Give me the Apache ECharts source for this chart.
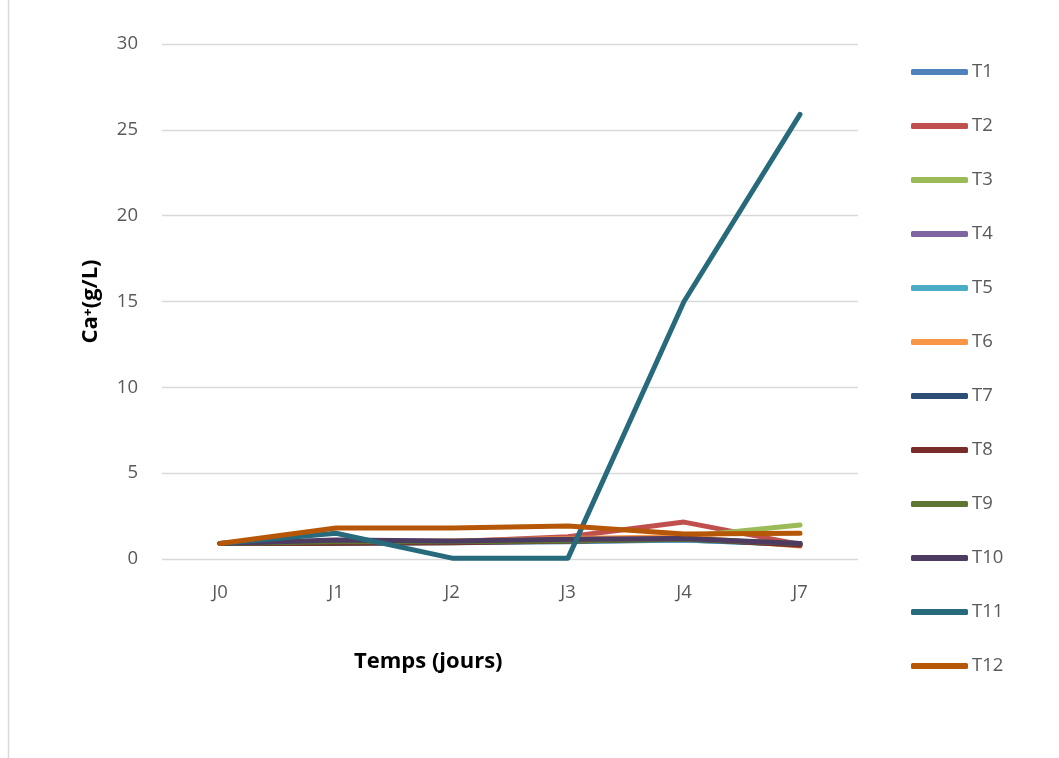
<!DOCTYPE html>
<html>
<head>
<meta charset="utf-8">
<script src="https://cdn.jsdelivr.net/npm/echarts@6/dist/echarts.min.js"></script>
<style>
  html, body { margin: 0; padding: 0; background: #fff; }
  #chart { width: 1059px; height: 758px; }
</style>
</head>
<body>
<div id="chart"></div>
<script>
// Calcium concentration per treatment over the sampling days
const days = ['J0', 'J1', 'J2', 'J3', 'J4', 'J7'];
const yTicks = [0, 5, 10, 15, 20, 25, 30];

const T1  = [0.9, 0.9,  0.95, 1.0,  1.1,  0.85];
const T2  = [0.9, 0.95, 1.0,  1.3,  2.15, 0.85];
const T3  = [0.9, 1.0,  1.0,  1.1,  1.3,  1.98];
const T4  = [0.9, 1.0,  1.0,  1.05, 1.1,  0.9];
const T5  = [0.9, 0.95, 1.0,  1.05, 1.1,  0.85];
const T6  = [0.9, 1.0,  1.05, 1.2,  1.3,  0.75];
const T7  = [0.9, 0.95, 1.0,  1.05, 1.15, 0.85];
const T8  = [0.9, 0.92, 0.95, 1.05, 1.2,  0.8];
const T9  = [0.9, 1.0,  1.0,  1.05, 1.15, 0.9];
const T10 = [0.9, 1.1,  1.05, 1.15, 1.2,  0.9];
const T11 = [0.9, 1.5,  0.05, 0.05, 15.0, 25.9];
const T12 = [0.9, 1.8,  1.8,  1.92, 1.45, 1.5];

const names = ['T1','T2','T3','T4','T5','T6','T7','T8','T9','T10','T11','T12'];
const values = [T1,T2,T3,T4,T5,T6,T7,T8,T9,T10,T11,T12];
const colors = ['#4F81BD','#C0504D','#9BBB59','#8064A2','#4BACC6','#F79646',
                '#2C4D75','#772C2A','#5F7530','#4D3B62','#276A7C','#B65708'];

const font = 'Open Sans, Liberation Sans, sans-serif';
const chart = echarts.init(document.getElementById('chart'));

chart.setOption({
  animation: false,
  color: colors,
  grid: { left: 162, right: 201, top: 44, bottom: 199, containLabel: false },
  xAxis: {
    type: 'category',
    data: days,
    boundaryGap: true,
    axisLine: { show: false },
    axisTick: { show: false },
    axisLabel: { color: '#595959', fontSize: 18.5, fontFamily: font, margin: 24 }
  },
  yAxis: {
    type: 'value',
    min: yTicks[0],
    max: yTicks[yTicks.length - 1],
    interval: 5,
    axisLine: { show: false },
    axisTick: { show: false },
    splitLine: { lineStyle: { color: '#d9d9d9', width: 1.3 } },
    axisLabel: { color: '#595959', fontSize: 18.5, fontFamily: font, margin: 24 },
    name: 'Ca\u207A(g/L)',
    nameLocation: 'middle',
    nameGap: 60,
    nameRotate: 90,
    nameTextStyle: { color: '#000', fontSize: 22, fontWeight: 'bold', fontFamily: font }
  },
  legend: {
    orient: 'vertical',
    left: 906,
    top: 55,
    itemGap: 30,
    itemWidth: 57,
    itemHeight: 6,
    icon: 'roundRect',
    textStyle: { color: '#595959', fontSize: 18.5, fontFamily: font, lineHeight: 24, padding: [0, 0, 0, -1] },
    data: names
  },
  graphic: [{
    type: 'line',
    shape: { x1: 8.5, y1: 0, x2: 8.5, y2: 758 },
    style: { stroke: '#d9d9d9', lineWidth: 1.5 }
  }, {
    type: 'text',
    left: 354,
    top: 651,
    style: { text: 'Temps (jours)', fill: '#000', font: 'bold 22px ' + font }
  }],
  series: names.map((n, i) => ({
    name: n,
    type: 'line',
    data: values[i],
    showSymbol: false,
    symbol: 'none',
    lineStyle: { width: 5, cap: 'round', join: 'round' },
    z: 2 + i
  }))
});
</script>
</body>
</html>
